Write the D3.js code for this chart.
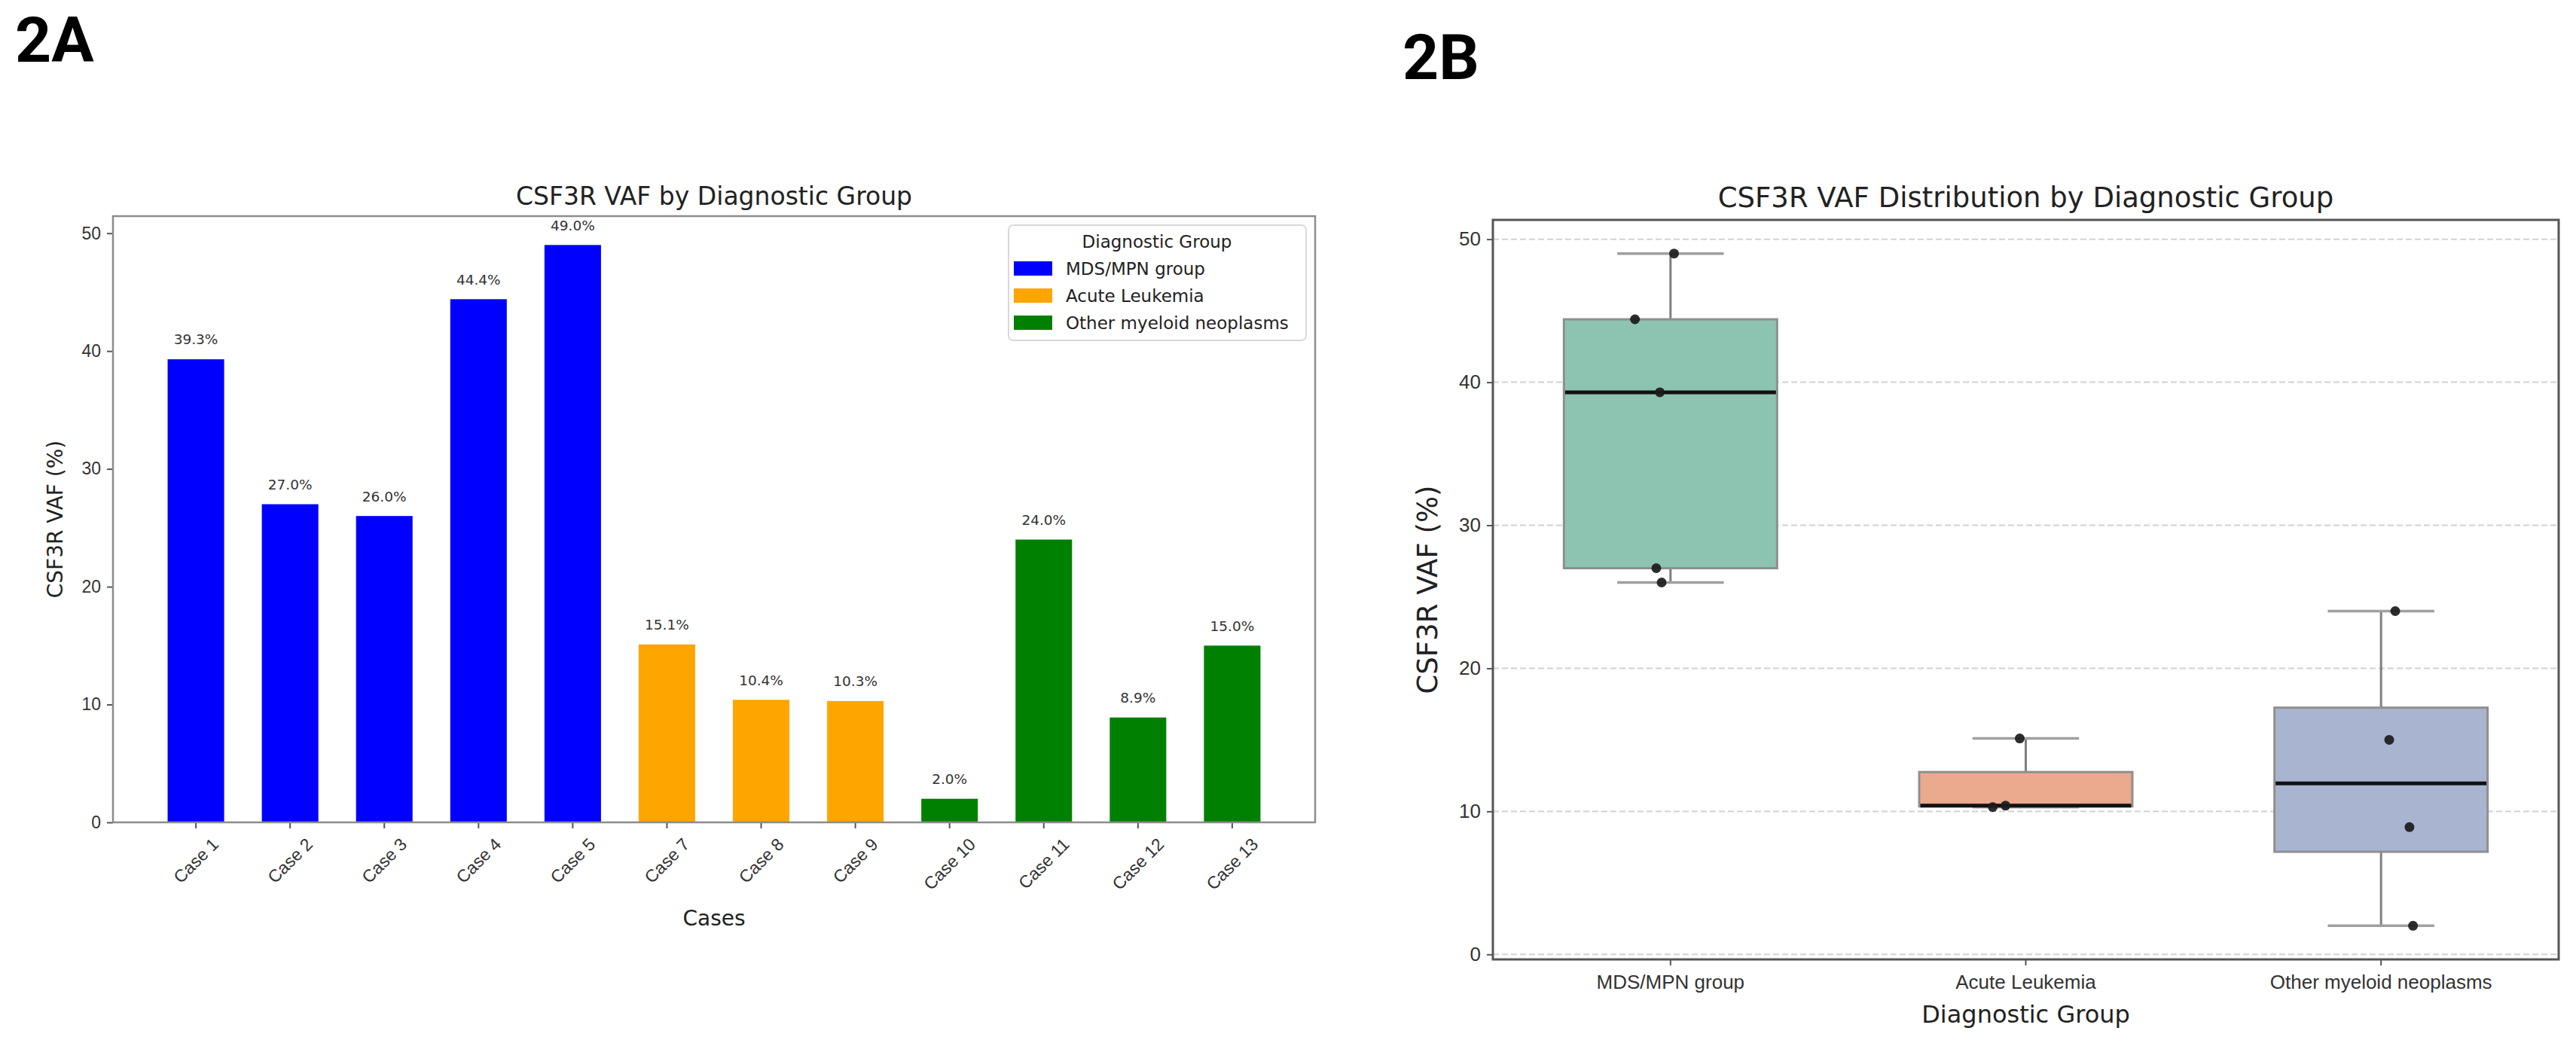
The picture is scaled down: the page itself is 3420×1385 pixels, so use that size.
<!DOCTYPE html>
<html>
<head>
<meta charset="utf-8">
<script src="https://cdn.jsdelivr.net/npm/d3@7"></script>
<style>
    body { margin: 0; background: #fff; }
    svg { display: block; font-family: "DejaVu Sans", sans-serif; }
    .panel-tag { font-family: Roboto, sans-serif; font-weight: 700; font-size: 84px; fill: #000; }
    .tick text { fill: #333; }
    .tick line { stroke: #555; stroke-width: 2; }
</style>
</head>
<body>
<svg id="chart" width="3420" height="1385"></svg>
<script>
// ---- data ----
const cases = ["Case 1", "Case 2", "Case 3", "Case 4", "Case 5", "Case 7",
    "Case 8", "Case 9", "Case 10", "Case 11", "Case 12", "Case 13"];
const vafValues = [39.3, 27.0, 26.0, 44.4, 49.0, 15.1, 10.4, 10.3, 2.0, 24.0, 8.9, 15.0];
const caseGroups = ["MDS/MPN group", "MDS/MPN group", "MDS/MPN group", "MDS/MPN group", "MDS/MPN group",
    "Acute Leukemia", "Acute Leukemia", "Acute Leukemia",
    "Other myeloid neoplasms", "Other myeloid neoplasms", "Other myeloid neoplasms", "Other myeloid neoplasms"];
const groupNames = ["MDS/MPN group", "Acute Leukemia", "Other myeloid neoplasms"];
const yTicks = [0, 10, 20, 30, 40, 50];
// strip plot jitter per case (in category widths)
const stripJitter = [-0.03, -0.04, -0.025, -0.10, 0.01, -0.017, -0.057, -0.093, 0.09, 0.04, 0.08, 0.023];

// styles
const barColors = { "MDS/MPN group": "#0000ff", "Acute Leukemia": "#ffa500", "Other myeloid neoplasms": "#008000" };
const boxColors = { "MDS/MPN group": "#8dc3b1", "Acute Leukemia": "#eba98d", "Other myeloid neoplasms": "#a9b5d0" };

const svg = d3.select("#chart");

svg.append("text").attr("class", "panel-tag").attr("x", 20).attr("y", 82).text("2A");
svg.append("text").attr("class", "panel-tag").attr("x", 1862).attr("y", 105).text("2B");

// ---------- 2A: bar chart ----------
function drawBarPanel() {
    const box = { left: 150, right: 1746, top: 287, bottom: 1092 };
    const g = svg.append("g");

    const x = d3.scaleBand()
        .domain(cases)
        .range([box.left, box.right])
        .paddingInner(0.4)
        .paddingOuter(0.58);
    const y = d3.scaleLinear()
        .domain([0, d3.max(vafValues) * 1.05])
        .range([box.bottom, box.top]);

    // bars
    g.selectAll(".bar")
        .data(cases)
        .enter().append("rect")
        .attr("class", "bar")
        .attr("x", d => x(d))
        .attr("width", x.bandwidth())
        .attr("y", (d, i) => y(vafValues[i]))
        .attr("height", (d, i) => y(0) - y(vafValues[i]))
        .attr("fill", (d, i) => barColors[caseGroups[i]]);

    // value labels on top
    g.selectAll(".bar-label")
        .data(cases)
        .enter().append("text")
        .attr("class", "bar-label")
        .attr("x", d => x(d) + x.bandwidth() / 2)
        .attr("y", (d, i) => y(vafValues[i] + 1) - 4)
        .attr("text-anchor", "middle")
        .attr("font-size", 18.5)
        .attr("fill", "#333")
        .text((d, i) => `${vafValues[i].toFixed(1)}%`);

    // y axis
    const yAxis = g.append("g")
        .attr("transform", `translate(${box.left},0)`)
        .call(d3.axisLeft(y).tickValues(yTicks).tickSize(8).tickPadding(8));
    yAxis.select(".domain").remove();
    yAxis.selectAll("text").attr("font-size", 23);

    // x axis with rotated labels (centred under each tick)
    const xAxis = g.append("g")
        .attr("transform", `translate(0,${box.bottom})`)
        .call(d3.axisBottom(x).tickSize(8).tickPadding(0));
    xAxis.select(".domain").remove();
    xAxis.selectAll("text")
        .attr("font-size", 23)
        .attr("dy", null)
        .attr("y", null)
        .attr("text-anchor", "middle")
        .attr("dominant-baseline", "central")
        .each(function () {
            const w = this.getComputedTextLength();
            const h = 23 * 1.1;
            const cy = 16 + (w + h) * Math.SQRT1_2 / 2;
            d3.select(this).attr("transform", `translate(0,${cy}) rotate(-45)`);
        });

    // frame
    g.append("rect")
        .attr("x", box.left).attr("y", box.top)
        .attr("width", box.right - box.left).attr("height", box.bottom - box.top)
        .attr("fill", "none").attr("stroke", "#8c8c8c").attr("stroke-width", 2.5);

    // titles
    g.append("text")
        .attr("x", (box.left + box.right) / 2).attr("y", 272)
        .attr("text-anchor", "middle").attr("font-size", 33).attr("fill", "#222")
        .text("CSF3R VAF by Diagnostic Group");
    g.append("text")
        .attr("x", (box.left + box.right) / 2).attr("y", 1229)
        .attr("text-anchor", "middle").attr("font-size", 28).attr("fill", "#222")
        .text("Cases");
    g.append("text")
        .attr("transform", `translate(83,${(box.top + box.bottom) / 2}) rotate(-90)`)
        .attr("text-anchor", "middle").attr("font-size", 28).attr("fill", "#222")
        .text("CSF3R VAF (%)");

    // legend
    const legend = g.append("g");
    legend.append("rect")
        .attr("x", 1339).attr("y", 299).attr("width", 395).attr("height", 153).attr("rx", 6)
        .attr("fill", "#fff").attr("fill-opacity", 0.8)
        .attr("stroke", "#d9d9d9").attr("stroke-width", 2);
    legend.append("text")
        .attr("x", 1536).attr("y", 329)
        .attr("text-anchor", "middle").attr("font-size", 23).attr("fill", "#222")
        .text("Diagnostic Group");
    const entries = legend.selectAll(".entry")
        .data(groupNames)
        .enter().append("g")
        .attr("class", "entry")
        .attr("transform", (d, i) => `translate(0,${365 + i * 36})`);
    entries.append("rect")
        .attr("x", 1346).attr("y", -18).attr("width", 51).attr("height", 19)
        .attr("fill", d => barColors[d]);
    entries.append("text")
        .attr("x", 1415).attr("y", 0)
        .attr("font-size", 23).attr("fill", "#222")
        .text(d => d);
}

// ---------- 2B: box + strip plot ----------
function drawBoxPanel() {
    const box = { left: 1982, right: 3397, top: 292, bottom: 1274 };
    const g = svg.append("g");

    const lo = d3.min(vafValues), hi = d3.max(vafValues);
    const pad = (hi - lo) * 0.05;
    const x = d3.scaleBand().domain(groupNames).range([box.left, box.right]);
    const y = d3.scaleLinear().domain([lo - pad, hi + pad]).range([box.bottom, box.top]);
    const boxW = x.bandwidth() * 0.6;
    const cx = name => x(name) + x.bandwidth() / 2;

    // dashed horizontal grid
    g.selectAll(".grid")
        .data(yTicks)
        .enter().append("line")
        .attr("class", "grid")
        .attr("x1", box.left).attr("x2", box.right)
        .attr("y1", d => y(d)).attr("y2", d => y(d))
        .attr("stroke", "#d2d2d2").attr("stroke-width", 2).attr("stroke-dasharray", "8,4");

    // box statistics from the case values
    const stats = groupNames.map(name => {
        const v = vafValues.filter((d, i) => caseGroups[i] === name).sort(d3.ascending);
        const q1 = d3.quantile(v, 0.25), med = d3.quantile(v, 0.5), q3 = d3.quantile(v, 0.75);
        const iqr = q3 - q1;
        return {
            name, q1, med, q3,
            wLo: d3.min(v.filter(d => d >= q1 - 1.5 * iqr)),
            wHi: d3.max(v.filter(d => d <= q3 + 1.5 * iqr))
        };
    });

    const boxes = g.selectAll(".box")
        .data(stats)
        .enter().append("g")
        .attr("class", "box");
    // whiskers
    boxes.append("line")
        .attr("x1", d => cx(d.name)).attr("x2", d => cx(d.name))
        .attr("y1", d => y(d.q3)).attr("y2", d => y(d.wHi))
        .attr("stroke", "#7f7f7f").attr("stroke-width", 3);
    boxes.append("line")
        .attr("x1", d => cx(d.name)).attr("x2", d => cx(d.name))
        .attr("y1", d => y(d.q1)).attr("y2", d => y(d.wLo))
        .attr("stroke", "#7f7f7f").attr("stroke-width", 3);
    // caps
    ["wHi", "wLo"].forEach(k => {
        boxes.append("line")
            .attr("x1", d => cx(d.name) - boxW / 4).attr("x2", d => cx(d.name) + boxW / 4)
            .attr("y1", d => y(d[k])).attr("y2", d => y(d[k]))
            .attr("stroke", "#a0a0a0").attr("stroke-width", 3.5);
    });
    // box body
    boxes.append("rect")
        .attr("x", d => cx(d.name) - boxW / 2).attr("width", boxW)
        .attr("y", d => y(d.q3)).attr("height", d => y(d.q1) - y(d.q3))
        .attr("fill", d => boxColors[d.name])
        .attr("stroke", "#8f8f8f").attr("stroke-width", 3);
    // median
    boxes.append("line")
        .attr("x1", d => cx(d.name) - boxW / 2 + 1.5).attr("x2", d => cx(d.name) + boxW / 2 - 1.5)
        .attr("y1", d => y(d.med)).attr("y2", d => y(d.med))
        .attr("stroke", "#111").attr("stroke-width", 5);

    // individual points
    g.selectAll(".pt")
        .data(vafValues)
        .enter().append("circle")
        .attr("class", "pt")
        .attr("cx", (d, i) => cx(caseGroups[i]) + stripJitter[i] * x.bandwidth())
        .attr("cy", d => y(d))
        .attr("r", 6.5)
        .attr("fill", "#1b1b1b").attr("fill-opacity", 0.92);

    // axes
    const yAxis = g.append("g")
        .attr("transform", `translate(${box.left},0)`)
        .call(d3.axisLeft(y).tickValues(yTicks).tickSize(8).tickPadding(8));
    yAxis.select(".domain").remove();
    yAxis.selectAll("text").attr("font-size", 26);

    const xAxis = g.append("g")
        .attr("transform", `translate(0,${box.bottom})`)
        .call(d3.axisBottom(x).tickSize(8).tickPadding(9));
    xAxis.select(".domain").remove();
    xAxis.selectAll("text").attr("font-size", 26).attr("dy", "0.85em");

    g.append("rect")
        .attr("x", box.left).attr("y", box.top)
        .attr("width", box.right - box.left).attr("height", box.bottom - box.top)
        .attr("fill", "none").attr("stroke", "#555").attr("stroke-width", 3);

    // titles
    g.append("text")
        .attr("x", (box.left + box.right) / 2).attr("y", 275)
        .attr("text-anchor", "middle").attr("font-size", 37).attr("fill", "#222")
        .text("CSF3R VAF Distribution by Diagnostic Group");
    g.append("text")
        .attr("x", (box.left + box.right) / 2).attr("y", 1358)
        .attr("text-anchor", "middle").attr("font-size", 32).attr("fill", "#222")
        .text("Diagnostic Group");
    g.append("text")
        .attr("transform", `translate(1908,${(box.top + box.bottom) / 2}) rotate(-90)`)
        .attr("text-anchor", "middle").attr("font-size", 37).attr("fill", "#222")
        .text("CSF3R VAF (%)");
}

drawBarPanel();
drawBoxPanel();
</script>
</body>
</html>
